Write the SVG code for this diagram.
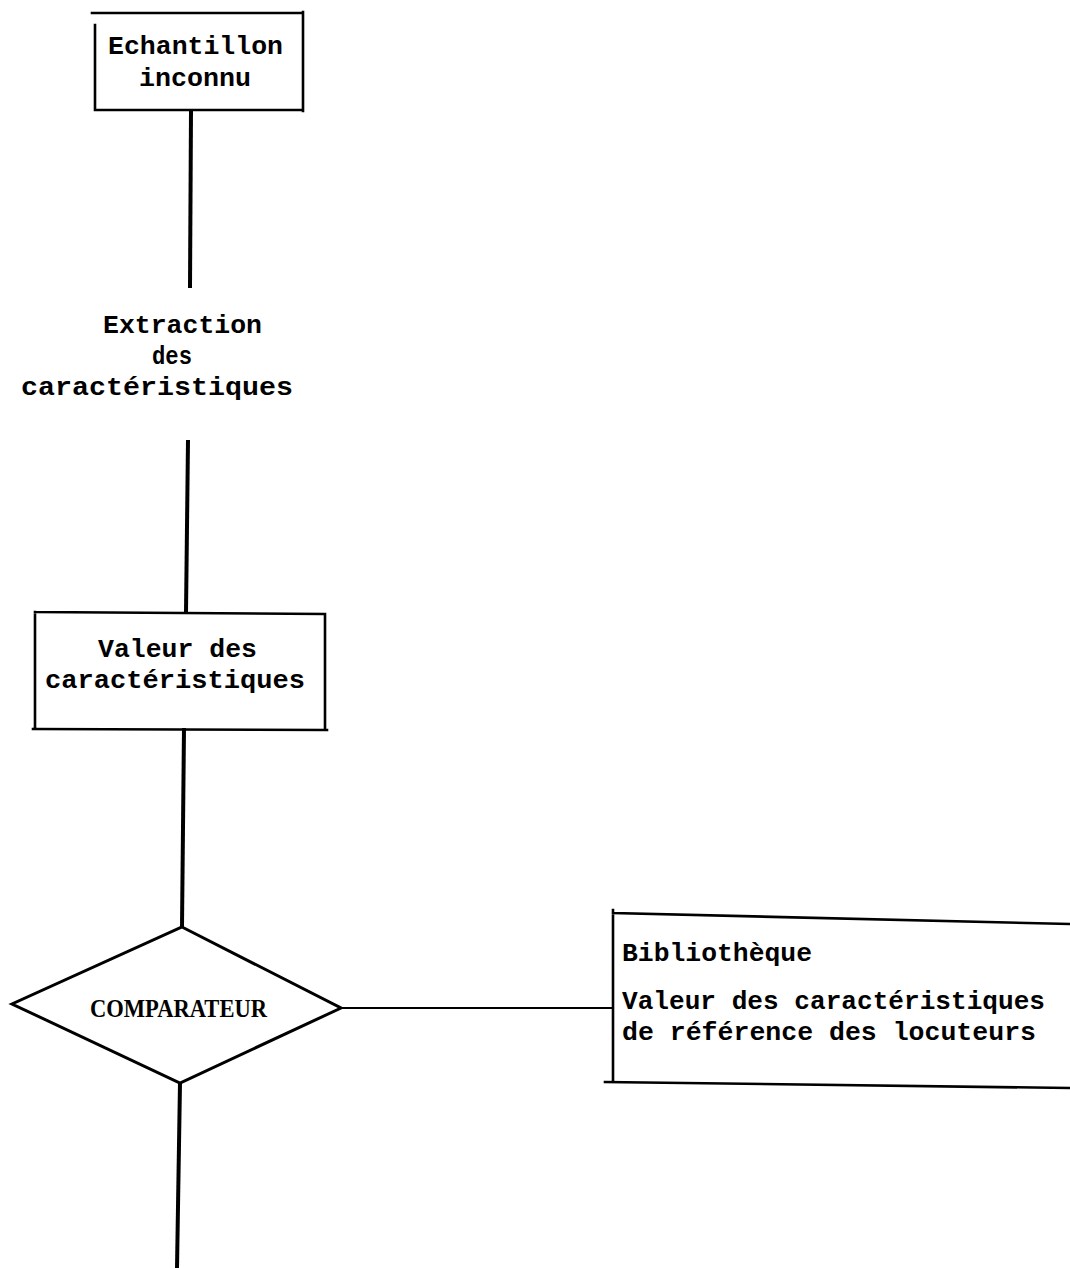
<svg xmlns="http://www.w3.org/2000/svg" width="1070" height="1268" viewBox="0 0 1070 1268">
  <style>
    .bg { fill: #ffffff; }
    .box { fill: none; stroke: #000; stroke-width: 2.6; stroke-linecap: square; }
    .link { fill: none; stroke: #000; stroke-width: 4; stroke-linecap: butt; }
    .thin { fill: none; stroke: #000; stroke-width: 2; }
    .tw { font-family: "Liberation Mono", "DejaVu Sans Mono", monospace; font-weight: bold; font-size: 25px; fill: #000; }
    .cmp { font-family: "Liberation Serif", "DejaVu Serif", serif; font-weight: bold; font-size: 26px; fill: #000; }
  </style>
  <rect class="bg" x="0" y="0" width="1070" height="1268"/>

  <g id="connectors">
    <line class="link" x1="191" y1="111" x2="190" y2="288"/>
    <line class="link" x1="188" y1="440" x2="186" y2="613"/>
    <line class="link" x1="184" y1="728" x2="182" y2="927"/>
    <line class="thin" x1="341" y1="1008" x2="613" y2="1008"/>
    <line class="link" x1="180" y1="1083" x2="177" y2="1268"/>
  </g>

  <g id="echantillon">
    <path class="box" d="M92 13 L303 13 M95 25 L95 110 M303 12 L303 111 M95 110 L303 110"/>
    <text class="tw" x="108" y="54" textLength="175" lengthAdjust="spacingAndGlyphs">Echantillon</text>
    <text class="tw" x="139" y="86" textLength="112" lengthAdjust="spacingAndGlyphs">inconnu</text>
  </g>

  <g id="extraction">
    <text class="tw" x="103" y="333" textLength="159" lengthAdjust="spacingAndGlyphs">Extraction</text>
    <text class="tw" x="152" y="364" textLength="40" lengthAdjust="spacingAndGlyphs">des</text>
    <text class="tw" x="21" y="395" textLength="272" lengthAdjust="spacingAndGlyphs">caractéristiques</text>
  </g>

  <g id="valeur">
    <path class="box" d="M35 612 L325 614 M35 612 L35 729 M325 614 L325 729 M33 729 L327 730"/>
    <text class="tw" x="98" y="657" textLength="159" lengthAdjust="spacingAndGlyphs">Valeur des</text>
    <text class="tw" x="45" y="688" textLength="260" lengthAdjust="spacingAndGlyphs">caractéristiques</text>
  </g>

  <g id="comparateur">
    <polygon class="box" points="182,927 341,1008 180,1083 12,1004" style="stroke-width:3;stroke-linejoin:miter"/>
    <text class="cmp" x="90" y="1017" textLength="177" lengthAdjust="spacingAndGlyphs">COMPARATEUR</text>
  </g>

  <g id="bibliotheque">
    <path class="box" d="M613 913 L1070 924 M613 910 L613 1082 M605 1082 L1070 1088"/>
    <text class="tw" x="622" y="961" textLength="190" lengthAdjust="spacingAndGlyphs">Bibliothèque</text>
    <text class="tw" x="622" y="1009" textLength="423" lengthAdjust="spacingAndGlyphs">Valeur des caractéristiques</text>
    <text class="tw" x="622" y="1040" textLength="414" lengthAdjust="spacingAndGlyphs">de référence des locuteurs</text>
  </g>
</svg>
